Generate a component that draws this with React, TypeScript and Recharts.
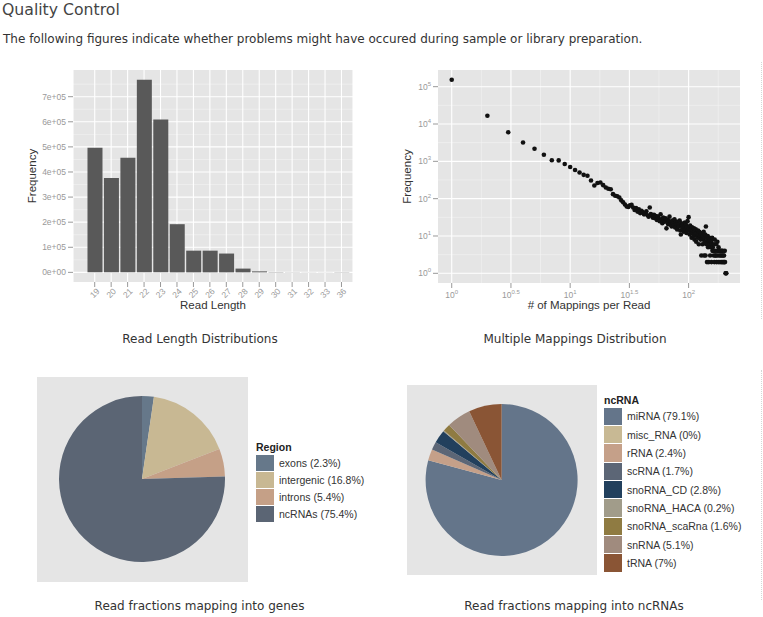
import React from "react";
import {
  BarChart,
  Bar,
  XAxis,
  YAxis,
  CartesianGrid,
  ScatterChart,
  Scatter,
  PieChart,
  Pie,
  Cell,
  Legend,
} from "recharts";

// ---- read length histogram ----
const readLengths = ["19", "20", "21", "22", "23", "24", "25", "26", "27", "28", "29", "30", "31", "32", "33", "36"];
const readLengthFreq = [497000, 376000, 457000, 768000, 609000, 192000, 86500, 86500, 75000, 15000, 4000, 1500, 600, 400, 300, 800];
const freqTicks = [0, 100000, 200000, 300000, 400000, 500000, 600000, 700000];
const freqMinorTicks = [50000, 150000, 250000, 350000, 450000, 550000, 650000, 750000];

// ---- multiple mappings ----
const mappingsPerRead = [
  1, 2, 3, 4, 5, 6, 7, 8, 9, 10,
  11, 12, 13, 14, 15, 16, 17, 18, 19, 20,
  21, 22, 23, 24, 25, 26, 27, 28, 29, 30,
  31, 32, 33, 34, 35, 36, 37, 38, 39, 40,
  41, 42, 43, 44, 45, 46, 47, 48, 49, 50,
  51, 52, 53, 54, 55, 56, 57, 58, 59, 60,
  61, 62, 63, 64, 65, 66, 67, 68, 69, 70,
  71, 72, 73, 74, 75, 76, 77, 78, 79, 80,
  81, 82, 83, 84, 85, 86, 87, 88, 89, 90,
  91, 92, 93, 94, 95, 96, 97, 98, 99, 100,
  101, 102, 103, 104, 105, 106, 107, 108, 109, 110,
  111, 112, 113, 114, 115, 116, 117, 118, 119, 120,
  121, 122, 123, 124, 125, 126, 127, 128, 129, 130,
  131, 132, 133, 134, 135, 136, 137, 138, 139, 140,
  141, 142, 143, 144, 145, 146, 147, 148, 149, 150,
  151, 152, 153, 154, 155, 156, 157, 158, 159, 160,
  162, 163, 164, 165, 166, 167, 168, 170, 171, 172,
  174, 175, 176, 178, 179, 180, 182, 183, 184, 186,
  187, 189, 190, 191, 193, 194, 196, 197, 199, 200,
  202, 203, 205, 207, 208,
];
const mappingFreq = [
  154000, 16600, 6000, 3200, 2180, 1500, 1070, 1060, 850, 705,
  585, 500, 435, 410, 307, 225, 262, 270, 230, 200,
  184, 178, 132, 120, 116, 107, 90, 80, 70, 62,
  60, 66, 68, 58, 50, 56, 45, 52, 41, 47,
  44, 38, 40, 46, 36, 33, 58, 39, 35, 31,
  37, 30, 34, 27, 33, 29, 25, 38, 28, 22,
  31, 26, 24, 30, 16, 27, 21, 25, 33, 20,
  24, 18, 26, 22, 19, 28, 17, 23, 21, 15,
  24, 20, 18, 26, 14, 11, 22, 19, 16, 21,
  13, 18, 23, 15, 20, 12, 17, 25, 14, 32,
  16, 11, 19, 13, 15, 9, 17, 12, 14, 10,
  16, 8, 13, 11, 15, 7, 12, 10, 9, 14,
  11, 6, 13, 9, 10, 8, 12, 3, 11, 9,
  6, 10, 8, 13, 3, 9, 7, 11, 3, 18,
  6, 9, 2, 7, 10, 5, 8, 2, 7, 9,
  6, 3, 8, 5, 7, 2, 6, 9, 4, 5,
  4, 3, 6, 2, 8, 4, 3, 3, 6, 2,
  4, 7, 3, 2, 5, 4, 3, 4, 2, 4,
  3, 2, 4, 3, 2, 4, 3, 2, 3, 2,
  4, 2, 1, 1, 1,
];
const logXExps = [0, 0.5, 1, 1.5, 2];
const logXMinorExps = [0.25, 0.75, 1.25, 1.75, 2.25];
const logYExps = [0, 1, 2, 3, 4, 5];
const logYMinorExps = [0.5, 1.5, 2.5, 3.5, 4.5];

// ---- pies ----
const regionNames = ["exons", "intergenic", "introns", "ncRNAs"];
const regionShares = [2.3, 16.8, 5.4, 75.4];
const regionColors = ["#66788A", "#C8B893", "#C5A087", "#5B6574"];

const ncrnaNames = ["miRNA", "misc_RNA", "rRNA", "scRNA", "snoRNA_CD", "snoRNA_HACA", "snoRNA_scaRna", "snRNA", "tRNA"];
const ncrnaShares = [79.1, 0, 2.4, 1.7, 2.8, 0.2, 1.6, 5.1, 7];
const ncrnaColors = ["#64758A", "#C8B994", "#C5A089", "#5C6676", "#22405D", "#A19C8A", "#8F7B42", "#A08B7E", "#8A5535"];

const FONT = '"Liberation Sans", Arial, Helvetica, sans-serif';
const PAGE_FONT = '"DejaVu Sans", sans-serif';
const PANEL = "#E5E5E5";
const TICK = "#999999";

const lengthRows = readLengths.map((l, i) => ({ pos: i, count: readLengthFreq[i] }));
const lengthMax = Math.max(...readLengthFreq);
const mappingRows = mappingsPerRead.map((m, i) => ({ m, f: mappingFreq[i] }));
const pow = (e: number) => Math.pow(10, e);
const xLogMax = Math.log10(Math.max(...mappingsPerRead));
const yLogMax = Math.log10(Math.max(...mappingFreq));
const pctLabel = (names: string[], shares: number[]) => names.map((n, i) => `${n} (${shares[i]}%)`);
const regionLabels = pctLabel(regionNames, regionShares);
const ncrnaLabels = pctLabel(ncrnaNames, ncrnaShares);
const regionRows = regionLabels.map((label, i) => ({ label, share: regionShares[i] }));
const ncrnaRows = ncrnaLabels.map((label, i) => ({ label, share: ncrnaShares[i] }));

const sciLabel = (v: number) => (v === 0 ? "0e+00" : `${v / 100000}e+05`);

function AngledTick({ x, y, payload }: any) {
  const cy = y + 4;
  return (
    <text
      x={x}
      y={cy}
      transform={`rotate(-45 ${x} ${cy})`}
      textAnchor="middle"
      dominantBaseline="central"
      fontSize={8.5}
      fontFamily={FONT}
      fill={TICK}
    >
      {readLengths[payload.value]}
    </text>
  );
}

function PowXTick({ x, y, index }: any) {
  return (
    <text x={x} y={y + 8} textAnchor="middle" fontSize={8.5} fontFamily={FONT} fill={TICK}>
      <tspan>10</tspan>
      <tspan dy={-4} fontSize={6}>{logXExps[index]}</tspan>
    </text>
  );
}

function PowYTick({ x, y, index }: any) {
  return (
    <text x={x} y={y + 3} textAnchor="end" fontSize={8.5} fontFamily={FONT} fill={TICK}>
      <tspan>10</tspan>
      <tspan dy={-4} fontSize={6}>{logYExps[index]}</tspan>
    </text>
  );
}

const yTitle = (dx: number) => ({ viewBox }: any) => {
  const cx = viewBox.x + dx;
  const cy = viewBox.y + viewBox.height / 2;
  return (
    <text x={cx} y={cy} transform={`rotate(-90 ${cx} ${cy})`} textAnchor="middle" dominantBaseline="central" fontSize={11.5} fontFamily={FONT} fill="#333">
      Frequency
    </text>
  );
};

// legend keeps the data order (recharts would sort it by name)
const pieLegend = (title: string, labels: string[], colors: string[], keyH: number) => () => (
  <div style={{ fontFamily: FONT, fontSize: 10.5, color: "#333" }}>
    <div style={{ fontWeight: "bold", color: "#222", height: 14, lineHeight: "14px" }}>{title}</div>
    {labels.map((label, i) => (
      <div key={`key-${i}`} style={{ display: "flex", alignItems: "center", height: keyH }}>
        <div style={{ width: 18, height: keyH - 1, background: colors[i], marginRight: 5 }} />
        <span style={{ whiteSpace: "nowrap" }}>{label}</span>
      </div>
    ))}
  </div>
);

const caption = (text: string, cx: number, cy: number) => (
  <div
    style={{
      position: "absolute",
      left: cx - 150,
      top: cy - 8,
      width: 300,
      lineHeight: "16px",
      textAlign: "center",
      fontFamily: PAGE_FONT,
      fontSize: 12,
      color: "#333",
    }}
  >
    {text}
  </div>
);

export default function App() {
  return (
    <div style={{ position: "absolute", left: 0, top: 0, width: 763, height: 617, background: "#fff", overflow: "hidden" }}>
      <div style={{ position: "absolute", left: 2, top: 0, fontFamily: PAGE_FONT, fontSize: 15.7, lineHeight: "20px", color: "#444" }}>
        Quality Control
      </div>
      <div style={{ position: "absolute", left: 3, top: 31, fontFamily: PAGE_FONT, fontSize: 12, lineHeight: "16px", color: "#333", whiteSpace: "nowrap" }}>
        The following figures indicate whether problems might have occured during sample or library preparation.
      </div>

      <div style={{ position: "absolute", left: 761, top: 62, height: 257, borderLeft: "1px dotted #d6d6d6" }} />
      <div style={{ position: "absolute", left: 761, top: 370, height: 230, borderLeft: "1px dotted #d6d6d6" }} />

      {/* read length histogram */}
      <div style={{ position: "absolute", left: 20, top: 60 }}>
        <BarChart width={340} height={260} data={lengthRows} margin={{ top: 10, right: 7, bottom: 0, left: 0 }}>
          <CartesianGrid fill={PANEL} stroke="#F3F3F3" strokeWidth={0.6} vertical={false} horizontalValues={freqMinorTicks} />
          <CartesianGrid stroke="#FFFFFF" strokeWidth={1.1} horizontalValues={freqTicks} />
          <XAxis
            dataKey="pos"
            type="number"
            domain={[-1.32, readLengths.length - 1 + 0.7]}
            allowDataOverflow
            ticks={readLengths.map((_, i) => i)}
            interval={0}
            height={38}
            tickSize={5}
            tickMargin={2}
            axisLine={false}
            tickLine={{ stroke: TICK }}
            tick={<AngledTick />}
            label={{ value: "Read Length", position: "insideBottom", offset: 11, fontSize: 11.5, fill: "#333", fontFamily: FONT }}
          />
          <YAxis
            type="number"
            domain={[-0.05 * lengthMax, 1.05 * lengthMax]}
            allowDataOverflow
            ticks={freqTicks}
            interval={0}
            width={53}
            tickSize={5}
            tickMargin={2}
            axisLine={false}
            tickLine={{ stroke: TICK }}
            tickFormatter={sciLabel}
            tick={{ fontSize: 8.5, fill: TICK, fontFamily: FONT }}
            label={{ content: yTitle(12) }}
          />
          <Bar dataKey="count" fill="#595959" barSize={15} isAnimationActive={false} />
        </BarChart>
      </div>

      {/* multiple mappings scatter */}
      <div style={{ position: "absolute", left: 390, top: 60 }}>
        <ScatterChart width={373} height={260} margin={{ top: 10, right: 23, bottom: 0, left: 0 }}>
          <CartesianGrid
            fill={PANEL}
            stroke="#F3F3F3"
            strokeWidth={0.6}
            horizontalValues={logYMinorExps.map(pow)}
            verticalValues={logXMinorExps.map(pow)}
          />
          <CartesianGrid stroke="#FFFFFF" strokeWidth={1.1} horizontalValues={logYExps.map(pow)} verticalValues={logXExps.map(pow)} />
          <XAxis
            dataKey="m"
            type="number"
            scale="log"
            domain={[pow(-0.05 * xLogMax), pow(1.05 * xLogMax)]}
            allowDataOverflow
            ticks={logXExps.map(pow)}
            interval={0}
            height={37}
            tickSize={5}
            tickMargin={2}
            axisLine={false}
            tickLine={{ stroke: TICK }}
            tick={<PowXTick />}
            label={{ value: "# of Mappings per Read", position: "insideBottom", offset: 11, fontSize: 11.5, fill: "#333", fontFamily: FONT }}
          />
          <YAxis
            dataKey="f"
            type="number"
            scale="log"
            domain={[pow(-0.05 * yLogMax), pow(1.05 * yLogMax)]}
            allowDataOverflow
            ticks={logYExps.map(pow)}
            interval={0}
            width={48}
            tickSize={5}
            tickMargin={2}
            axisLine={false}
            tickLine={{ stroke: TICK }}
            tick={<PowYTick />}
            label={{ content: yTitle(17) }}
          />
          <Scatter
            data={mappingRows}
            isAnimationActive={false}
            shape={(p: any) => <circle cx={p.cx} cy={p.cy} r={2.3} fill="#111111" />}
          />
        </ScatterChart>
      </div>
      {caption("Read Length Distributions", 200, 339)}
      {caption("Multiple Mappings Distribution", 575, 339)}

      {/* genes pie */}
      <div style={{ position: "absolute", left: 37, top: 377, width: 211, height: 205, background: PANEL }} />
      <div style={{ position: "absolute", left: 30, top: 370 }}>
        <PieChart width={340} height={220} margin={{ top: 0, right: 0, bottom: 0, left: 0 }}>
          <Pie
            data={regionRows}
            dataKey="share"
            nameKey="label"
            cx={112}
            cy={109}
            outerRadius={83}
            startAngle={90}
            endAngle={-270}
            stroke="none"
            isAnimationActive={false}
          >
            {regionRows.map((_, i) => (
              <Cell key={`region-${i}`} fill={regionColors[i]} />
            ))}
          </Pie>
          <Legend
            layout="vertical"
            align="right"
            verticalAlign="top"
            wrapperStyle={{ left: 226, top: 70, right: "auto" }}
            content={pieLegend("Region", regionLabels, regionColors, 17.1)}
          />
        </PieChart>
      </div>

      {/* ncRNA pie */}
      <div style={{ position: "absolute", left: 407, top: 385, width: 190, height: 190, background: PANEL }} />
      <div style={{ position: "absolute", left: 400, top: 370 }}>
        <PieChart width={363} height={220} margin={{ top: 0, right: 0, bottom: 0, left: 0 }}>
          <Pie
            data={ncrnaRows}
            dataKey="share"
            nameKey="label"
            cx={101.6}
            cy={110}
            outerRadius={76}
            startAngle={90}
            endAngle={-270}
            stroke="none"
            isAnimationActive={false}
          >
            {ncrnaRows.map((_, i) => (
              <Cell key={`ncrna-${i}`} fill={ncrnaColors[i]} />
            ))}
          </Pie>
          <Legend
            layout="vertical"
            align="right"
            verticalAlign="top"
            wrapperStyle={{ left: 204, top: 23, right: "auto" }}
            content={pieLegend("ncRNA", ncrnaLabels, ncrnaColors, 18.35)}
          />
        </PieChart>
      </div>
      {caption("Read fractions mapping into genes", 199.5, 606)}
      {caption("Read fractions mapping into ncRNAs", 574, 606)}
    </div>
  );
}
